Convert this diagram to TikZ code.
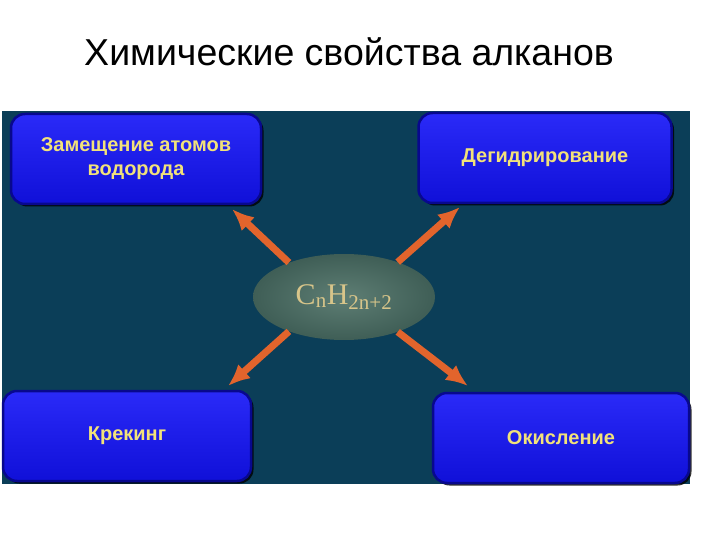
\documentclass[tikz,border=0pt]{standalone}
\usepackage{fontspec}
\setmainfont{Liberation Sans}
\newfontfamily\formulafont{Liberation Serif}
\usetikzlibrary{arrows.meta}
\usetikzlibrary{shapes.geometric}
\usetikzlibrary{shadows}

\definecolor{panel}{HTML}{0B3E58}
\definecolor{boxtop}{HTML}{2A2AF8}
\definecolor{boxbottom}{HTML}{1010D8}
\definecolor{boxedge}{HTML}{08088E}
\definecolor{labelyellow}{HTML}{F2E27A}
\definecolor{ovalinner}{HTML}{5E7E74}
\definecolor{ovalouter}{HTML}{3F5E56}
\definecolor{arroworange}{HTML}{E2642C}
\definecolor{formulagold}{HTML}{D8C58A}

\tikzset{
  propbox/.style={draw=boxedge, line width=2.5pt, top color=boxtop, bottom color=boxbottom,
    rounded corners=14pt, minimum width=#1, minimum height=90pt, align=center, text=labelyellow,
    font=\bfseries\fontsize{20}{24}\selectfont,
    drop shadow={shadow xshift=2.5pt, shadow yshift=-2.5pt, fill=black, opacity=0.8}},
  reaction/.style={line width=7pt, draw=arroworange,
    -{Latex[length=22pt, width=19pt]}}
}

\begin{document}
\begin{tikzpicture}[x=1pt, y=-1pt]
    \useasboundingbox (0,0) rectangle (720,540);
    \fill[white] (0,0) rectangle (720,540);
    \node[font=\fontsize{37.5}{42}\selectfont] (title) at (349, 52) {Химические свойства алканов};
    \fill[panel] (2,111) rectangle (690,484);
    % property boxes
    \node[propbox=250pt] (subst) at (136, 159) {Замещение атомов\\водорода};
    \node[propbox=253pt] (dehyd) at (545, 158) {Дегидрирование};
    \node[propbox=248pt] (crack) at (127, 436) {Крекинг};
    \node[propbox=256pt] (oxid) at (561, 438) {Окисление};
    % central formula
    \node[ellipse, inner color=ovalinner, outer color=ovalouter, minimum width=182pt, minimum height=86pt,
      inner sep=0pt, text=formulagold, font=\formulafont\fontsize{30}{32}\selectfont] (alkane) at (344, 297)
      {C\textsubscript{n}H\textsubscript{2n+2}};
    \coordinate (tipA) at (232, 209);
    \coordinate (tipB) at (460, 207);
    \coordinate (tipC) at (228, 386);
    \coordinate (tipD) at (468, 386);
    \draw[reaction] (alkane.148) -- (tipA);
    \draw[reaction] (alkane.33) -- (tipB);
    \draw[reaction] (alkane.212) -- (tipC);
    \draw[reaction] (alkane.-33) -- (tipD);
\end{tikzpicture}
\end{document}
